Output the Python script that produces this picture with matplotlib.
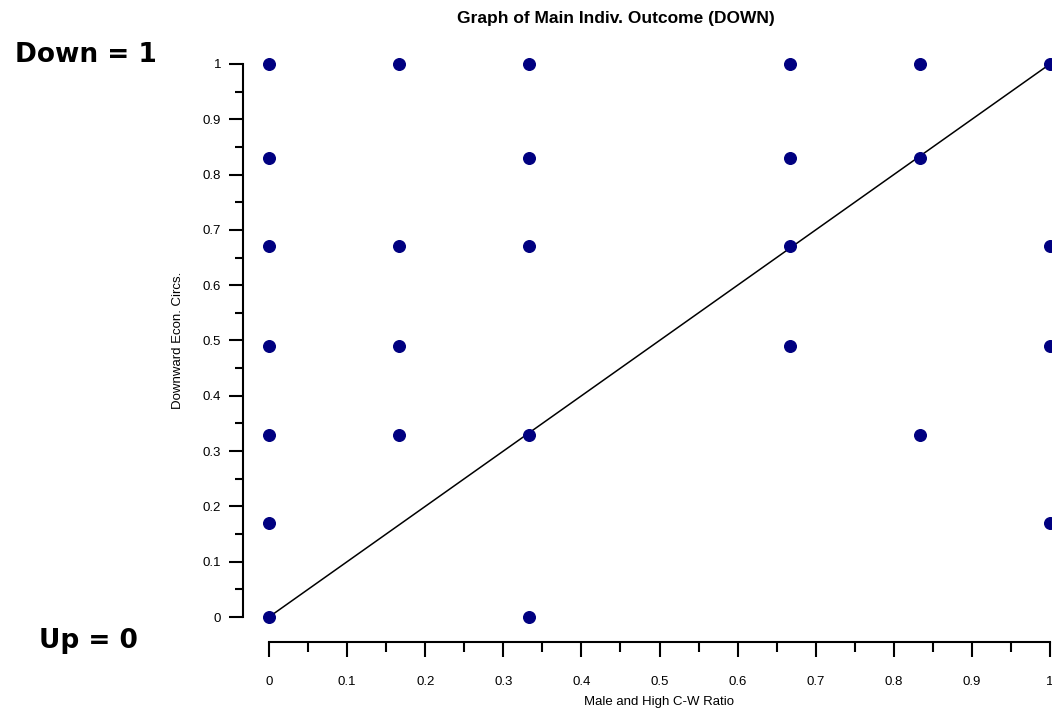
import numpy as np
import matplotlib
matplotlib.use('Agg')
import matplotlib.pyplot as plt
from matplotlib.ticker import MultipleLocator

# observed points (x = male and high C-W ratio, y = downward econ. circs.)
x_vals = [0, 0, 0, 0, 0, 0, 0,
          0.167, 0.167, 0.167, 0.167,
          0.333, 0.333, 0.333, 0.333, 0.333,
          0.667, 0.667, 0.667, 0.667,
          0.833, 0.833, 0.833,
          1, 1, 1, 1]
y_vals = [1, 0.83, 0.67, 0.49, 0.33, 0.17, 0,
          1, 0.67, 0.49, 0.33,
          1, 0.83, 0.67, 0.33, 0,
          1, 0.83, 0.67, 0.49,
          1, 0.83, 0.33,
          1, 0.67, 0.49, 0.17]
fit_x = [0, 1]
fit_y = [0, 1]

plt.rcParams['font.family'] = ['Liberation Sans', 'DejaVu Sans']

W, H = 1052, 722
PX = 72 / 100  # pixels -> points
fig = plt.figure(figsize=(W / 100, H / 100), dpi=100)
ax = fig.add_axes([269 / W, (H - 617) / H, (1050 - 269) / W, (617 - 64) / H])

ax.plot(fit_x, fit_y, color='black', lw=1.1, zorder=2)
ax.scatter(x_vals, y_vals, s=70, color='#000080', zorder=3, clip_on=False)

ax.set_xlim(0, 1)
ax.set_ylim(0, 1)

for s in ['top', 'right']:
    ax.spines[s].set_visible(False)
ax.spines['left'].set_position(('outward', 26 * PX))
ax.spines['bottom'].set_position(('outward', 25 * PX))
for s in ['left', 'bottom']:
    ax.spines[s].set_linewidth(1.5)

ax.xaxis.set_major_locator(MultipleLocator(0.1))
ax.xaxis.set_minor_locator(MultipleLocator(0.05))
ax.yaxis.set_major_locator(MultipleLocator(0.1))
ax.yaxis.set_minor_locator(MultipleLocator(0.05))
ax.xaxis.set_major_formatter(lambda v, p: '%g' % round(v, 2))
ax.yaxis.set_major_formatter(lambda v, p: '%g' % round(v, 2))

ax.tick_params(axis='x', which='major', direction='out', length=15 * PX, width=1.5, pad=19 * PX, labelsize=9.5)
ax.tick_params(axis='x', which='minor', direction='out', length=10 * PX, width=1.5)
ax.tick_params(axis='y', which='major', direction='out', length=14 * PX, width=1.5, pad=8 * PX, labelsize=9.5)
ax.tick_params(axis='y', which='minor', direction='out', length=8 * PX, width=1.5)

ax.set_xlabel('Male and High C-W Ratio', fontsize=9.5, labelpad=6)
ax.set_ylabel('Downward Econ. Circs.', fontsize=9.5, labelpad=13)

fig.text(616 / W, 1 - 18 / H, 'Graph of Main Indiv. Outcome (DOWN)', ha='center', va='center',
         fontsize=12.5, fontweight='bold')
fig.text(86 / W, 1 - 55 / H, 'Down = 1', ha='center', va='center', fontsize=19,
         fontweight='heavy', family=['DejaVu Sans'])
fig.text(88 / W, 1 - 641 / H, 'Up = 0', ha='center', va='center', fontsize=19,
         fontweight='heavy', family=['DejaVu Sans'])

fig.savefig('out.png', dpi=100)
